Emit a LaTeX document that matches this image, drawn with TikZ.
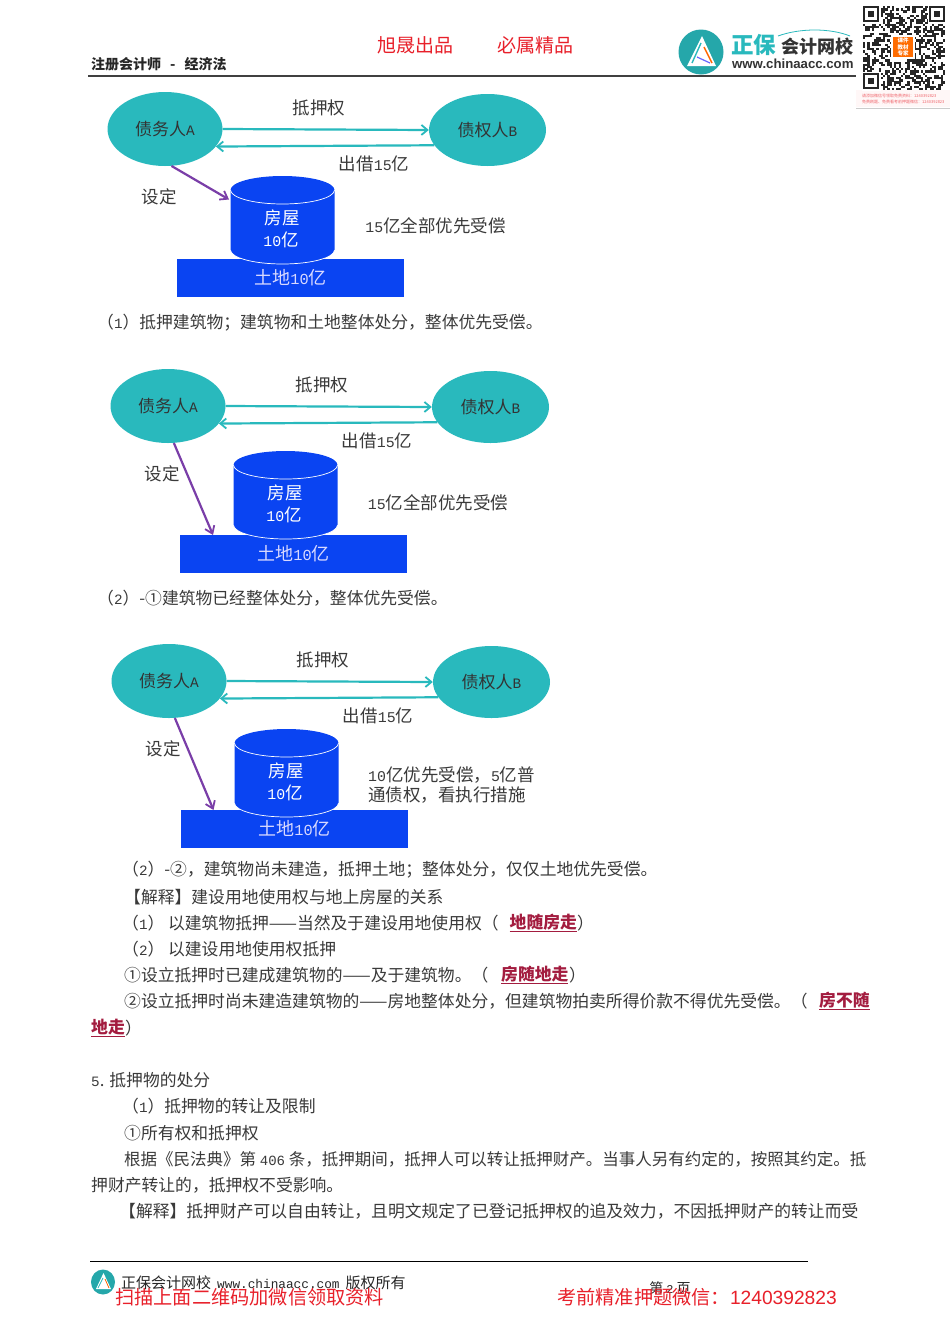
\documentclass[tikz,border=0pt]{standalone}
\usepackage{fontspec}
\setmainfont{Noto Sans CJK SC}
\newfontfamily\lat[Scale=0.85]{Liberation Mono}
\newfontfamily\arl{Liberation Sans}
\usetikzlibrary{shapes.geometric,arrows.meta}
\definecolor{tealc}{HTML}{29B9BD}
\definecolor{bluec}{HTML}{0A44F2}
\definecolor{purplec}{HTML}{7A3EA8}
\definecolor{redc}{HTML}{E8202A}
\definecolor{linkc}{HTML}{A31C3F}
\definecolor{txt}{HTML}{3A3A3A}
\tikzset{
  party/.style={ellipse,fill=tealc,inner sep=0pt,minimum width=115,minimum height=74,font=\fontsize{17}{17}\selectfont,text=black!80},
  tealarrow/.style={draw=tealc,line width=2.2,-{Straight Barb[length=6,width=10,line width=1.8]}},
  purplearrow/.style={draw=purplec,line width=2.2,-{Straight Barb[length=7,width=10,line width=1.8]}},
  lab/.style={inner sep=0pt,font=\fontsize{17.5}{17.5}\selectfont,text=txt},
  whitelab/.style={inner sep=0pt,font=\fontsize{17.5}{17.5}\selectfont,text=white},
  land/.style={fill=bluec,inner sep=0pt,minimum width=227,minimum height=38,font=\fontsize{18}{18}\selectfont,text=white!85!blue},
  body/.style={inner sep=0pt,anchor=west,font=\fontsize{16.8}{16.8}\selectfont,text=txt},
  linkt/.style={inner sep=0pt,anchor=west,font=\fontsize{16.8}{16.8}\selectfont\bfseries,text=linkc},
  hdr/.style={inner sep=0pt,font=\fontsize{19}{19}\selectfont,text=redc},
  ftr/.style={inner sep=0pt,anchor=west,font=\fontsize{15}{15}\selectfont,text=black!85},
  redf/.style={inner sep=0pt,anchor=west,font=\fontsize{19.2}{19.2}\selectfont,text=redc},
}
% #1 prefix, #2 dx, #3 dy of the ellipses and labels, #4 dy cylinder, #5 dy land
\newcommand\dealgram[5]{%
  \begin{scope}[shift={(#2,#3)}]
    \node[party] (#1a) at (165,129) {债务人{\lat A}};
    \node[party,minimum width=117,minimum height=72] (#1b) at (487.5,130) {债权人{\lat B}};
    \draw[tealarrow] (#1a.east) -- (#1b.west);
    \draw[tealarrow] (#1b.196.6) -- (#1a.-19.4);
    \node[lab] (#1mort) at (319,108) {抵押权};
    \node[lab] (#1lend) at (374,164) {出借{\lat 15}亿};
    \node[lab] (#1set) at (159,197) {设定};
  \end{scope}
  \node[land] (#1land) at (290.5+#2,278+#5) {土地{\lat 10}亿};
  \begin{scope}[shift={(#2,#4)}]
    \fill[bluec] (230.5,190) arc[start angle=180,end angle=360,x radius=52,y radius=14]
      -- (334.5,250) arc[start angle=0,end angle=180,x radius=52,y radius=14] -- cycle;
    \draw[white,line width=.7] (230.5,190) arc[start angle=180,end angle=0,x radius=52,y radius=14];
    \draw[white,line width=.7] (230.5,250) arc[start angle=180,end angle=0,x radius=52,y radius=14];
    \node[whitelab] (#1hou) at (282,218) {房屋};
    \node[whitelab] (#1val) at (281,240) {{\lat 10}亿};
  \end{scope}
}
\begin{document}
\begin{tikzpicture}[x=1pt,y=-1pt]
\path[use as bounding box,fill=white] (0,0) rectangle (950,1344);

% ---------- header
\node[hdr] (h1) at (415,45) {旭晟出品};
\node[hdr] (h2) at (535,45) {必属精品};
\node[inner sep=0pt,anchor=west,font=\fontsize{14}{14}\selectfont\bfseries,text=black!85] (h3) at (91,64) {注册会计师\hspace{9pt}-\hspace{9pt}经济法};
\coordinate (hl) at (88,76); \coordinate (hr) at (856,76);
\draw[black!75,line width=1.3] (hl) -- (hr);

% logo
\fill[tealc!90!black] (701,52) ellipse[x radius=22.5,y radius=22.5];
\fill[white] (702,36) -- (716,66) -- (687,66) -- cycle;
\draw[tealc,line width=1.4] (701,43) -- (692,63);
\draw[orange!80!red,line width=1.4] (704,47) -- (712,63);
\draw[blue!60,line width=1.2] (697,57) -- (710,63);
\node[inner sep=0pt,anchor=west,font=\fontsize{22.5}{22.5}\selectfont\bfseries,text=tealc] (zb) at (731,45) {正保};
\node[inner sep=0pt,anchor=west,font=\fontsize{18}{18}\selectfont\bfseries,text=black!80] (kj) at (781,47) {会计网校};
\node[inner sep=0pt,anchor=west,font=\arl\bfseries\fontsize{13.2}{13.2}\selectfont,text=black!80] (ww) at (732,64) {www.chinaacc.com};
\draw[tealc,line width=.8] (778,36) .. controls (800,28) and (830,28) .. (850,36);

% QR code
\fill[white] (856,0) rectangle (950,107);
\fill[red!3] (856,90) rectangle (950,107);
\draw[black!20,line width=1] (856,108) -- (950,108);
\pgfmathsetseed{4711}
\foreach \i in {0,...,36}{\foreach \j in {0,...,37}{
  \pgfmathparse{rnd<0.5?1:0}
  \ifnum\pgfmathresult=1
    \fill[black!85] ({863+\i*2.22},{6+\j*2.22}) rectangle +(2.3,2.3);
  \fi
}}
\foreach \px/\py in {863/6,929/6,863/73}{
  \fill[white] (\px-1,\py-1) rectangle +(18.5,18.5);
  \fill[black!85] (\px,\py) rectangle +(16,16);
  \fill[white] (\px+2.3,\py+2.3) rectangle +(11.4,11.4);
  \fill[black!85] (\px+4.6,\py+4.6) rectangle +(6.8,6.8);
}
\fill[white] (891,35) rectangle (915,59);
\fill[orange!85!red] (893,37) rectangle (913,57);
\node[inner sep=0pt,align=center,text=white,font=\fontsize{5.5}{6.5}\selectfont\bfseries] (qrc) at (903,47) {课件\\教材\\专家};
\node[inner sep=0pt,align=left,text=redc!70,anchor=west,font=\fontsize{4}{5.5}\selectfont] (qrt) at (862,99) {请添加微信号领取免费资料：1240392823\\免费刷题、免费看考前押题微信：1240392823};

% ---------- diagrams
\dealgram{p}{0}{0}{0}{0}
\node[lab] (pnote) at (435.5,226) {{\lat 15}亿全部优先受偿};
\coordinate (pend) at (229,199.5);
\draw[purplearrow] (pa.-80) -- (pend);
\node[body] (c1) at (97,323) {（{\lat 1}）抵押建筑物；建筑物和土地整体处分，整体优先受偿。};

\dealgram{q}{3}{277}{275}{276}
\node[lab] (qnote) at (438,503) {{\lat 15}亿全部优先受偿};
\coordinate (qend) at (213,535);
\draw[purplearrow] (qa.-81) -- (qend);
\node[body] (c2) at (97,598) {（{\lat 2}）-①建筑物已经整体处分，整体优先受偿。};

\dealgram{r}{4}{552}{553}{551}
\node[lab,anchor=west] (rn1) at (368,775) {{\lat 10}亿优先受偿，{\lat 5}亿普};
\node[lab,anchor=west] (rn2) at (368,795) {通债权，看执行措施};
\coordinate (rend) at (213.5,810);
\draw[purplearrow] (ra.-81) -- (rend);

% ---------- body text
\node[body] (l1) at (122,870) {（{\lat 2}）-②，建筑物尚未建造，抵押土地；整体处分，仅仅土地优先受偿。};
\node[body] (l2) at (124,897) {【解释】建设用地使用权与地上房屋的关系};
\node[body] (l3) at (122,923) {（{\lat 1}）\ 以建筑物抵押——当然及于建设用地使用权（};
\node[linkt] (l3a) at (509.5,923) {\underline{地随房走}};
\node[body] (l3b) at (577,923) {）};
\node[body] (l4) at (122,949) {（{\lat 2}）\ 以建设用地使用权抵押};
\node[body] (l5) at (124,975) {①设立抵押时已建成建筑物的——及于建筑物。（};
\node[linkt] (l5a) at (501,975) {\underline{房随地走}};
\node[body] (l5b) at (569,975) {）};
\node[body] (l6) at (124,1001) {②设立抵押时尚未建造建筑物的——房地整体处分，但建筑物拍卖所得价款不得优先受偿。（};
\node[linkt] (l6a) at (819,1001) {\underline{房不随}};
\node[linkt] (l7a) at (91,1028) {\underline{地走}};
\node[body] (l7b) at (125,1028) {）};
\node[body] (l8) at (91,1080) {{\lat 5}. 抵押物的处分};
\node[body] (l9) at (122,1106) {（{\lat 1}）抵押物的转让及限制};
\node[body] (l10) at (124,1133) {①所有权和抵押权};
\node[body,font=\fontsize{16.5}{16.5}\selectfont] (l11) at (124,1159) {根据《民法典》第 {\lat 406} 条，抵押期间，抵押人可以转让抵押财产。当事人另有约定的，按照其约定。抵};
\node[body] (l12) at (91,1185) {押财产转让的，抵押权不受影响。};
\node[body] (l13) at (119,1211) {【解释】抵押财产可以自由转让，且明文规定了已登记抵押权的追及效力，不因抵押财产的转让而受};

% ---------- footer
\coordinate (fl) at (90,1261); \coordinate (fr) at (808,1261);
\draw[black,line width=1] (fl) -- (fr);
\fill[tealc!90!black] (103,1282) ellipse[x radius=12,y radius=12.5];
\fill[white] (103.5,1273) -- (111,1289) -- (96,1289) -- cycle;
\draw[orange!80!red,line width=.8] (105,1279) -- (109,1288);
\draw[tealc,line width=.8] (103,1278) -- (98,1288);
\node[ftr] (f1) at (121,1283) {正保会计网校\hspace{6pt}{\lat www.chinaacc.com}\hspace{6pt}版权所有};
\node[ftr,anchor=center,font=\fontsize{14}{14}\selectfont] (f2) at (670,1288) {第 {\lat 2} 页};
\node[redf] (f3) at (115,1297) {扫描上面二维码加微信领取资料};
\node[redf] (f4) at (557,1297) {考前精准押题微信：{\arl 1240392823}};
\end{tikzpicture}
\end{document}
